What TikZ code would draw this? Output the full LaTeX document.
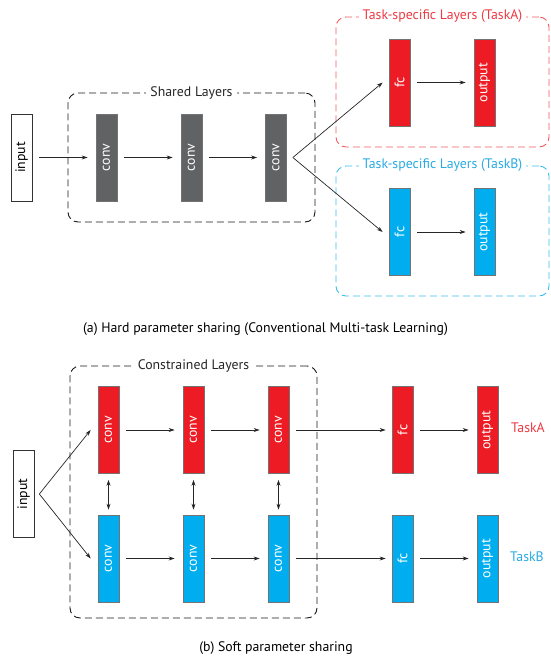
\documentclass[tikz,border=0pt]{standalone}
\usepackage{fontspec}
\setmainfont{PT Sans}
\usepackage{graphicx}
\usetikzlibrary{arrows.meta}
\definecolor{cgray}{HTML}{616264}
\definecolor{cred}{HTML}{ED1C24}
\definecolor{cblue}{HTML}{00AEEF}
\definecolor{lred}{HTML}{F15A60}
\definecolor{lblue}{HTML}{3CBDED}
\definecolor{tred}{HTML}{EE3A43}
\definecolor{tblue}{HTML}{29ABE2}
\tikzset{
 layer/.style={draw=black!55, line width=0.7pt, minimum width=21pt, minimum height=87pt, inner sep=0pt, text=white, font=\fontsize{13.8}{16}\selectfont},
 graylayer/.style={layer, fill=cgray},
 redlayer/.style={layer, fill=cred},
 bluelayer/.style={layer, fill=cblue},
 inbox/.style={layer, fill=white, draw=black!80, text=black},
 arr/.style={-{Stealth[length=6pt,width=4pt]}, line width=0.7pt, black!85},
 darr/.style={{Stealth[length=6pt,width=4pt]}-{Stealth[length=6pt,width=4pt]}, line width=0.7pt, black!85},
 gaparr/.style={arr, shorten <=7pt, shorten >=8pt},
 grpbox/.style={draw, dash pattern=on 7pt off 4pt, rounded corners=10pt, line width=0.9pt, inner sep=0pt},
 grptitle/.style={fill=white, inner xsep=4pt, inner ysep=1pt, font=\fontsize{13.8}{16}\selectfont},
 lbl/.style={font=\fontsize{13.8}{16}\selectfont},
}
\begin{document}
\begin{tikzpicture}[x=1pt,y=-1pt]
\useasboundingbox (0,0) rectangle (550,659);
% ---------- (a) ----------
\node[grpbox, draw=black!90, minimum width=247pt, minimum height=129pt] (shared) at (191.5,157.5) {};
\node[grptitle, text=black!85] (sharedT) at (shared.north) {Shared Layers};
\node[grpbox, draw=lred, minimum width=213pt, minimum height=130pt] (grpA) at (442.5,82) {};
\node[grptitle, text=tred] (grpAT) at (grpA.north) {Task-specific Layers (TaskA)};
\node[grpbox, draw=lblue, minimum width=213pt, minimum height=130pt] (grpB) at (442.5,231) {};
\node[grptitle, text=tblue] (grpBT) at (grpB.north) {Task-specific Layers (TaskB)};

\node[inbox] (inA) at (21.5,157.5) {\rotatebox{90}{input}};
\node[graylayer] (ca1) at (106.5,157.5) {\rotatebox{90}{conv}};
\node[graylayer] (ca2) at (191.5,157.5) {\rotatebox{90}{conv}};
\node[graylayer] (ca3) at (276,157.5) {\rotatebox{90}{conv}};
\node[redlayer] (fcA) at (399.5,82.5) {\rotatebox{90}{fc}};
\node[redlayer] (outA) at (484.5,82.5) {\rotatebox{90}{output}};
\node[bluelayer] (fcB) at (399.5,232) {\rotatebox{90}{fc}};
\node[bluelayer] (outB) at (484.5,232) {\rotatebox{90}{output}};

\draw[gaparr] (inA.east) -- (ca1.west);
\draw[gaparr] (ca1.east) -- (ca2.west);
\draw[gaparr] (ca2.east) -- (ca3.west);
\coordinate (split) at ([xshift=6pt]ca3.east);
\draw[arr] (split) -- ([xshift=-6pt]fcA.west);
\draw[arr] (split) -- ([xshift=-6pt]fcB.west);
\draw[gaparr] (fcA.east) -- (outA.west);
\draw[gaparr] (fcB.east) -- (outB.west);

\node[lbl] (capA) at (265.5,329) {(a) Hard parameter sharing (Conventional Multi-task Learning)};

% ---------- (b) ----------
\node[grpbox, draw=black!90, minimum width=247pt, minimum height=252pt] (constr) at (193.5,492) {};
\node[grptitle, text=black!85] (constrT) at (constr.north) {Constrained Layers};

\node[inbox] (inB) at (23.5,494) {\rotatebox{90}{input}};
\node[redlayer] (cr1) at (108.5,430) {\rotatebox{90}{conv}};
\node[redlayer] (cr2) at (193.5,430) {\rotatebox{90}{conv}};
\node[redlayer] (cr3) at (278.5,430) {\rotatebox{90}{conv}};
\node[bluelayer] (cb1) at (108.5,558.5) {\rotatebox{90}{conv}};
\node[bluelayer] (cb2) at (193.5,558.5) {\rotatebox{90}{conv}};
\node[bluelayer] (cb3) at (278.5,558.5) {\rotatebox{90}{conv}};
\node[redlayer] (fcr) at (402.5,430) {\rotatebox{90}{fc}};
\node[redlayer] (outr) at (487.5,430) {\rotatebox{90}{output}};
\node[bluelayer] (fcb) at (402.5,558.5) {\rotatebox{90}{fc}};
\node[bluelayer] (outb) at (487.5,558.5) {\rotatebox{90}{output}};
\node[lbl, text=tred] (taskA) at (528,428) {TaskA};
\node[lbl, text=tblue] (taskB) at (527,557) {TaskB};

\coordinate (fork) at ([xshift=5pt]inB.east);
\draw[arr] (fork) -- ([xshift=-7pt]cr1.west);
\draw[arr] (fork) -- ([xshift=-7pt]cb1.west);
\draw[gaparr] (cr1.east) -- (cr2.west);
\draw[gaparr] (cr2.east) -- (cr3.west);
\draw[gaparr] (cb1.east) -- (cb2.west);
\draw[gaparr] (cb2.east) -- (cb3.west);
\draw[arr, shorten <=7pt, shorten >=6pt] (cr3.east) -- (fcr.west);
\draw[arr, shorten <=7pt, shorten >=6pt] (cb3.east) -- (fcb.west);
\draw[gaparr] (fcr.east) -- (outr.west);
\draw[gaparr] (fcb.east) -- (outb.west);
\draw[darr, shorten <=6pt, shorten >=5pt] (cr1.south) -- (cb1.north);
\draw[darr, shorten <=6pt, shorten >=5pt] (cr2.south) -- (cb2.north);
\draw[darr, shorten <=6pt, shorten >=5pt] (cr3.south) -- (cb3.north);

\node[lbl] (capB) at (276,648) {(b) Soft parameter sharing};
\end{tikzpicture}
\end{document}
